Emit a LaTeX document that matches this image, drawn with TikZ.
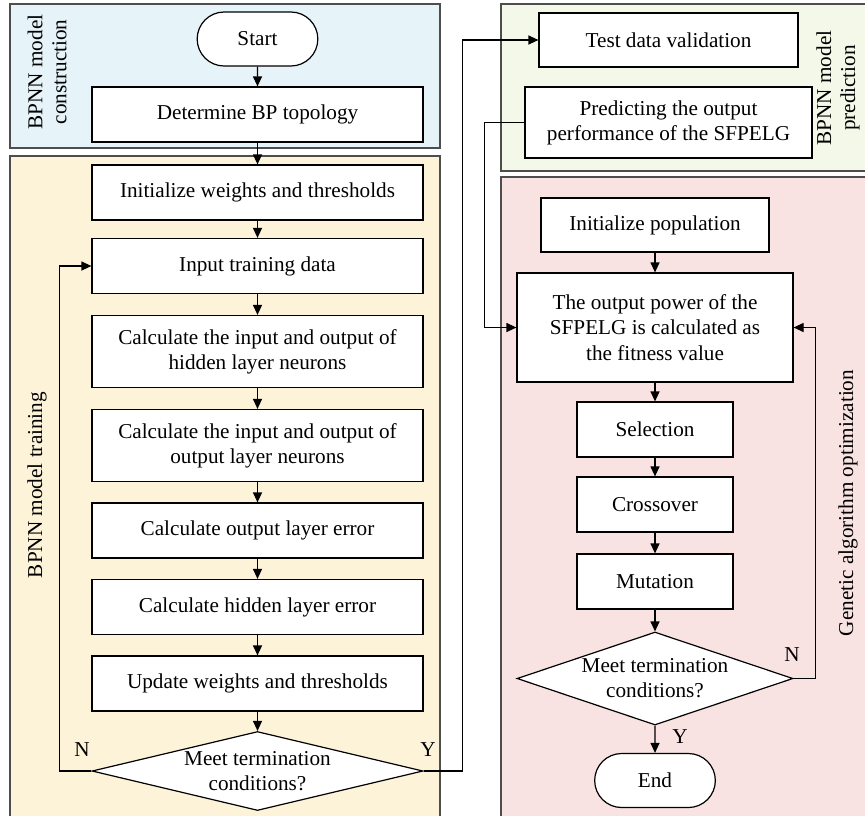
\documentclass[tikz,border=0pt]{standalone}
\usepackage{fontspec}
\setmainfont{Liberation Serif}
\usetikzlibrary{%
  arrows.meta,%
  shapes.geometric,% diamond
  shapes.misc,% rounded rectangle
  positioning%
}
\definecolor{constructblue}{HTML}{E6F3F9}
\definecolor{trainyellow}{HTML}{FDF3D9}
\definecolor{predictgreen}{HTML}{F3F8E8}
\definecolor{gapink}{HTML}{F8E2E2}
\definecolor{panelgray}{HTML}{4D4D4D}

\begin{document}
\begin{tikzpicture}
  [
  x=0.5pt, y=-0.5pt,
  font=\fontsize{10.6}{12.6}\selectfont, line width=0.6pt,
  >={Triangle[length=5pt,width=4.5pt]},
  panel/.style={draw=panelgray, line width=0.8pt},
  process/.style={rectangle, draw=black, fill=white, align=center, minimum width=165.5pt, minimum height=27.5pt, inner sep=2pt},
  terminal/.style={rounded rectangle, draw=black, fill=white, minimum width=67pt, minimum height=27pt},
  decision/.style={diamond, draw=black, fill=white, align=center, inner sep=-3pt},
  tag/.style={rotate=90, align=center, font=\fontsize{10.6}{12}\selectfont}
  ]

\clip (0,0) rectangle (865,815);

\draw[panel, fill=constructblue] (10,4) rectangle (440,148);
\draw[panel, fill=trainyellow] (10,156) rectangle (440,820);
\draw[panel, fill=predictgreen] (501,4) rectangle (870,171);
\draw[panel, fill=gapink] (501,177) rectangle (870,820);

\node[tag] (construction) at (47,72) {BPNN model\\construction};
\node[tag] (training) at (37,485) {BPNN model training};
\node[tag] (prediction) at (838,88) {BPNN model\\prediction};
\node[tag] (optimization) at (848,503) {Genetic algorithm optimization};

% BPNN side
\node[terminal] (start) at (257.5,39) {Start};
\node[process] (topo) at (257.5,114.5) {Determine BP topology};
\node[process] (init) at (257.5,192.5) {Initialize weights and thresholds};
\node[process] (input) at (257.5,266) {Input training data};
\node[process, minimum height=36pt] (hidden) at (257.5,351.5) {Calculate the input and output of\\hidden layer neurons};
\node[process, minimum height=36pt] (outl) at (257.5,445.5) {Calculate the input and output of\\output layer neurons};
\node[process] (oerr) at (257.5,530.5) {Calculate output layer error};
\node[process] (herr) at (257.5,607) {Calculate hidden layer error};
\node[process] (update) at (257.5,683.5) {Update weights and thresholds};
\node[decision, aspect=4.2, minimum width=165.5pt, minimum height=39.5pt] (judgeA) at (257.5,771) {Meet termination\\conditions?};

\foreach \a/\b in {start/topo,topo/init,init/input,input/hidden,hidden/outl,outl/oerr,oerr/herr,herr/update,update/judgeA} {
  \draw[->] (\a) -- (\b);
}

% prediction and GA side
\node[process, minimum width=129.5pt, minimum height=27pt] (test) at (668.5,40) {Test data validation};
\node[process, minimum width=143.5pt, minimum height=35.5pt] (predict) at (668.5,122.5) {Predicting the output\\performance of the SFPELG};
\node[process, minimum width=114pt, minimum height=27pt] (initpop) at (655,225) {Initialize population};
\node[process, minimum width=138pt, minimum height=54.5pt] (fitness) at (655,327.5) {The output power of the\\SFPELG is calculated as\\the fitness value};
\node[process, minimum width=78pt] (select) at (655,429.5) {Selection};
\node[process, minimum width=78pt] (cross) at (655,504.5) {Crossover};
\node[process, minimum width=78pt] (mutate) at (655,581.5) {Mutation};
\node[decision, aspect=3, minimum width=138pt, minimum height=46.5pt] (judgeB) at (655,678.5) {Meet termination\\conditions?};
\node[terminal] (stop) at (655,780.5) {End};

\foreach \a/\b in {initpop/fitness,fitness/select,select/cross,cross/mutate,mutate/judgeB,judgeB/stop} {
  \draw[->] (\a) -- (\b);
}

\draw[->] (judgeA.west) -- ++(-32,0) |- (input.west);
\draw[->] (judgeA.east) -- ++(39,0) |- (test.west);
\draw[->] (predict.west) -- ++(-40,0) |- (fitness.west);
\draw[->] (judgeB.east) -- ++(22,0) |- (fitness.east);

\node (noA) at (82,750) {N};
\node (yesA) at (428,750) {Y};
\node (noB) at (792,655) {N};
\node (yesB) at (680,737) {Y};

\end{tikzpicture}
\end{document}
